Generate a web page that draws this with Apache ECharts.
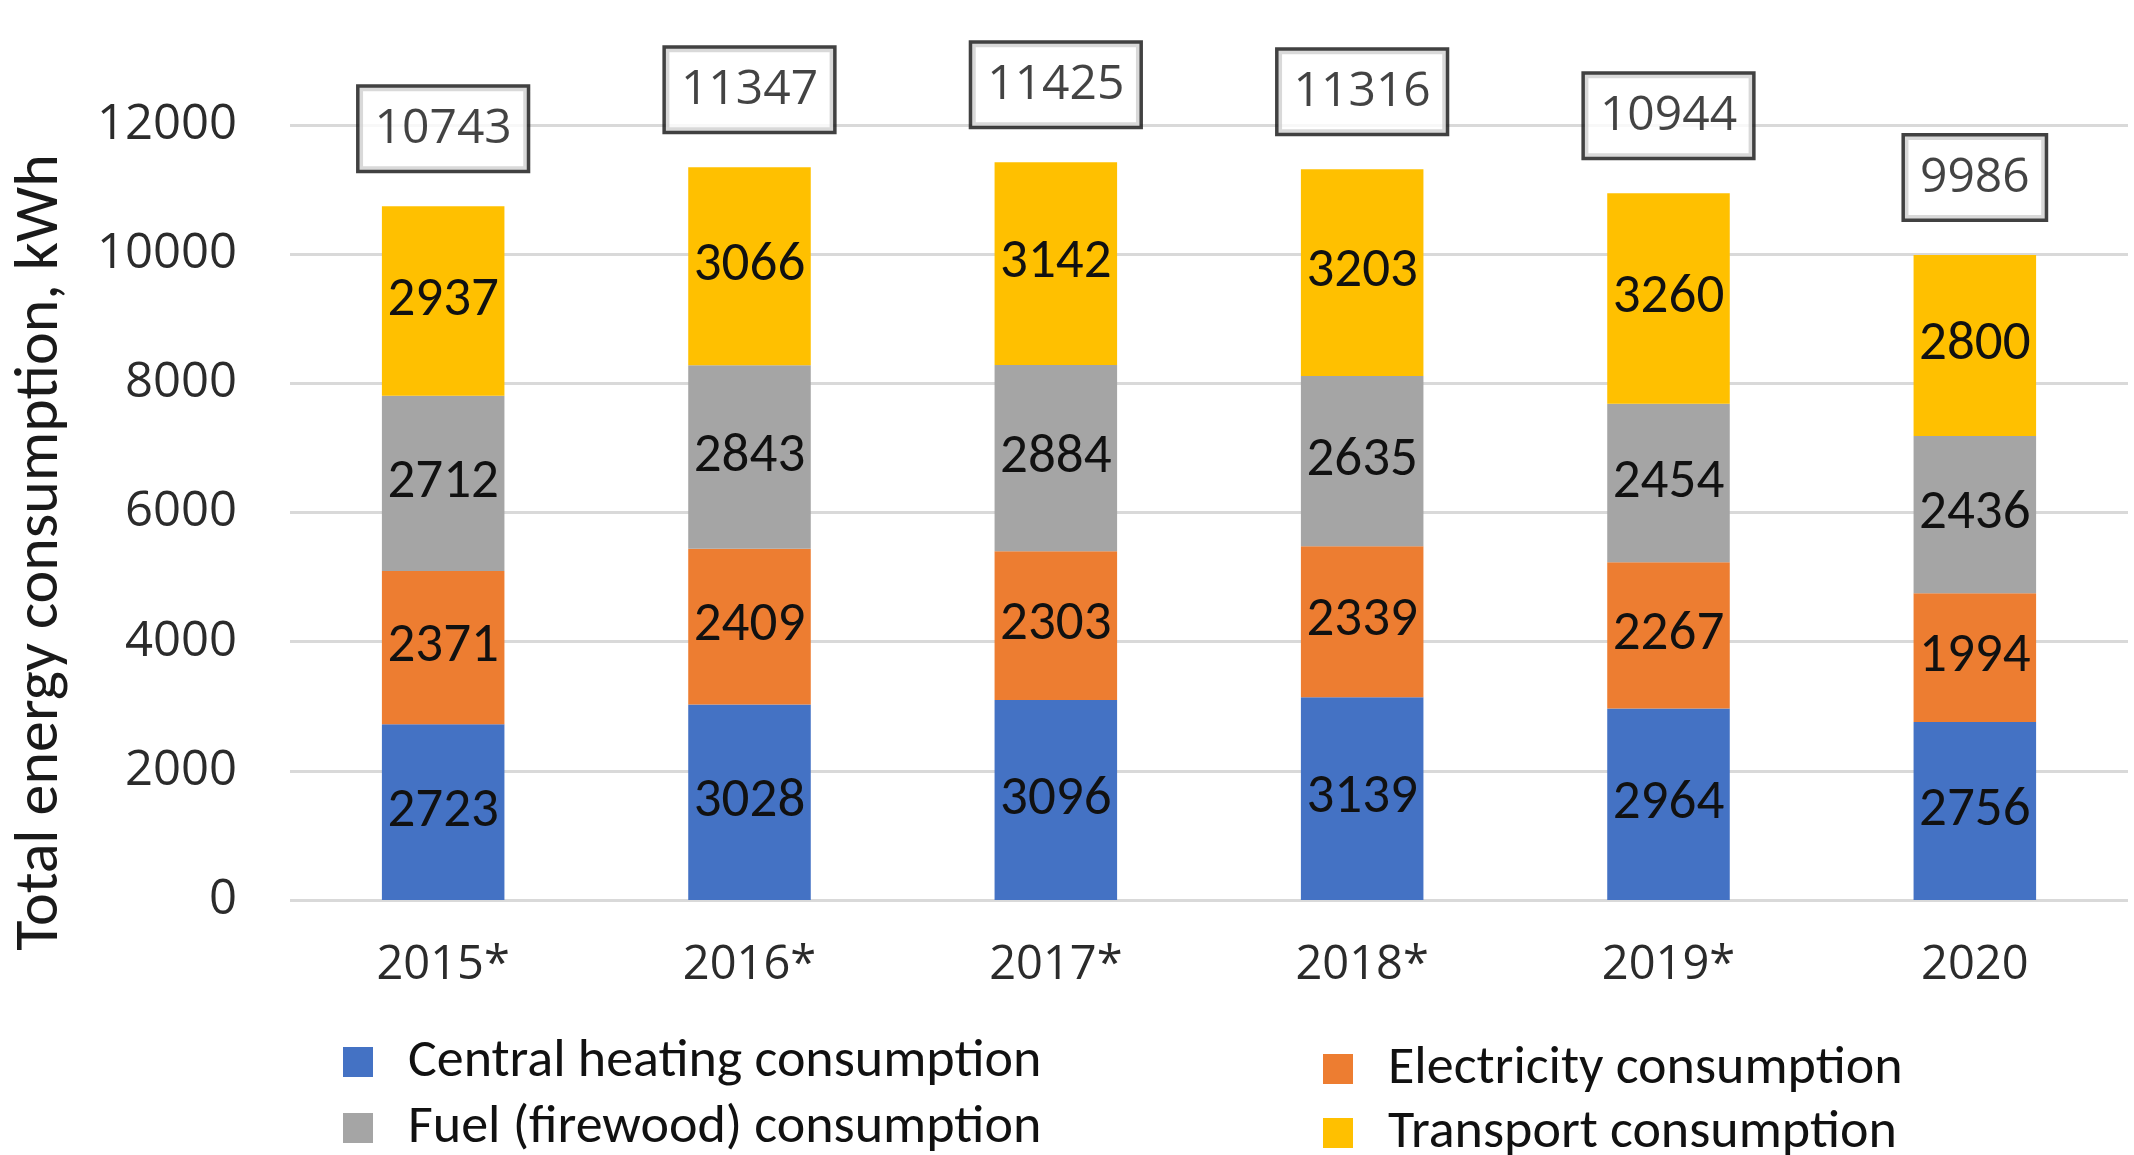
<!DOCTYPE html>
<html>
<head>
<meta charset="utf-8">
<script src="https://cdn.jsdelivr.net/npm/echarts@6/dist/echarts.min.js"></script>
<style>
html,body{margin:0;padding:0;background:#fff;}
#chart{width:2134px;height:1155px;}
</style>
</head>
<body>
<div id="chart"></div>
<script>
const categories = ['2015*', '2016*', '2017*', '2018*', '2019*', '2020'];
const centralHeating = [2723, 3028, 3096, 3139, 2964, 2756];
const electricity = [2371, 2409, 2303, 2339, 2267, 1994];
const fuelFirewood = [2712, 2843, 2884, 2635, 2454, 2436];
const transport = [2937, 3066, 3142, 3203, 3260, 2800];
const totals = [10743, 11347, 11425, 11316, 10944, 9986];
const yTicks = [0, 2000, 4000, 6000, 8000, 10000, 12000];

const seriesNames = ['Central heating consumption', 'Electricity consumption', 'Fuel (firewood) consumption', 'Transport consumption'];
const seriesColors = ['#4472C4', '#ED7D31', '#A5A5A5', '#FFC000'];
const seriesData = [centralHeating, electricity, fuelFirewood, transport];

const calibri = 'Carlito, Calibri, Lato, sans-serif';
const segoe = '"Segoe UI", "Open Sans", sans-serif';

const chart = echarts.init(document.getElementById('chart'), null, {renderer: 'canvas'});

const barSeries = seriesNames.map((name, i) => ({
  name: name,
  type: 'bar',
  stack: 'total',
  barWidth: '40%',
  data: seriesData[i],
  itemStyle: {color: seriesColors[i]},
  label: {
    show: true,
    position: 'inside',
    color: '#111',
    fontFamily: calibri,
    fontSize: 55
  },
  emphasis: {disabled: true}
}));

barSeries.push({
  name: 'Total',
  type: 'scatter',
  data: totals,
  symbolSize: 1,
  itemStyle: {color: 'rgba(0,0,0,0)'},
  label: {
    show: true,
    position: 'top',
    distance: 36,
    color: '#141414',
    fontFamily: segoe,
    fontSize: 48,
    borderColor: '#111',
    borderWidth: 3.5,
    padding: [18, 15, 16, 15],
    backgroundColor: '#fff'
  },
  z: 5
});

const legendText = {color: '#111', fontFamily: calibri, fontSize: 54, padding: [0, 0, 0, 30]};

const option = {
  animation: false,
  backgroundColor: '#ffffff',
  grid: {left: 290, right: 6, top: 125, bottom: 255},
  xAxis: {
    type: 'category',
    data: categories,
    axisLine: {show: false},
    axisTick: {show: false},
    axisLabel: {color: '#2b2b2b', fontFamily: segoe, fontSize: 47, margin: 42}
  },
  yAxis: {
    type: 'value',
    min: yTicks[0],
    max: yTicks[yTicks.length - 1],
    interval: yTicks[1] - yTicks[0],
    name: 'Total energy consumption, kWh',
    nameLocation: 'middle',
    nameGap: 218,
    nameTextStyle: {color: '#1a1a1a', fontFamily: calibri, fontSize: 62, padding: [0, 80, 0, 0]},
    axisLine: {show: false},
    axisTick: {show: false},
    splitLine: {lineStyle: {color: '#d9d9d9', width: 3}},
    axisLabel: {color: '#2b2b2b', fontFamily: segoe, fontSize: 49, margin: 53, formatter: v => String(v)}
  },
  legend: [
    {
      data: [seriesNames[0], seriesNames[2]],
      orient: 'vertical',
      left: 343,
      top: 1035,
      width: 800,
      height: 200,
      padding: 0,
      itemWidth: 30,
      itemHeight: 30,
      itemGap: 12,
      icon: 'rect',
      textStyle: legendText
    },
    {
      data: [seriesNames[1], seriesNames[3]],
      orient: 'vertical',
      left: 1323,
      top: 1042,
      width: 800,
      height: 200,
      padding: 0,
      itemWidth: 30,
      itemHeight: 30,
      itemGap: 10,
      icon: 'rect',
      textStyle: legendText
    }
  ],
  series: barSeries
};

chart.setOption(option);
</script>
</body>
</html>
